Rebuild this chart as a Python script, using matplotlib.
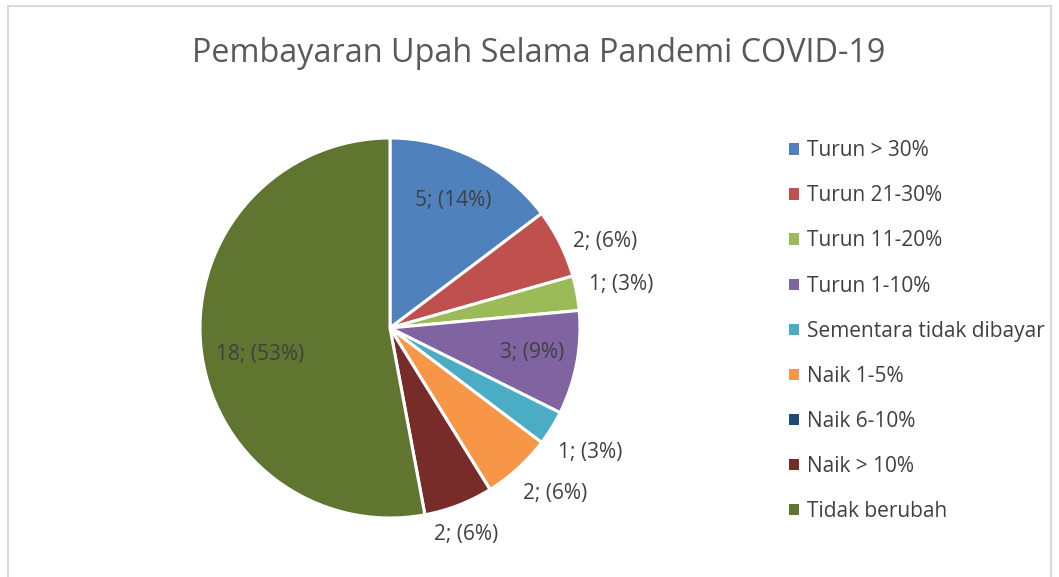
import numpy as np
import matplotlib.pyplot as plt
from matplotlib.patches import Rectangle, Patch

categories = ["Turun > 30%", "Turun 21-30%", "Turun 11-20%", "Turun 1-10%",
              "Sementara tidak dibayar", "Naik 1-5%", "Naik 6-10%",
              "Naik > 10%", "Tidak berubah"]
counts = [5, 2, 1, 3, 1, 2, 0, 2, 18]
percents = [14, 6, 3, 9, 3, 6, 0, 6, 53]
colors = ["#4F81BD", "#C0504D", "#9BBB59", "#8064A2", "#4BACC6",
          "#F79646", "#1F497D", "#772C2A", "#5F7530"]
# label placement: radius factor and clockwise angle nudge (deg)
label_dist = [0.75, 1.22, 1.24, 0.76, 1.24, 1.23, 1.2, 1.16, 0.70]
label_shift = [0, 4.5, 0, -1, 0, -2.5, 0, 1, -6.4]

plt.rcParams["font.family"] = ["Open Sans", "DejaVu Sans"]

W, H = 1059, 577
fig = plt.figure(figsize=(W / 100, H / 100), dpi=100)

# light grey chart border
fig.patches.append(Rectangle((8 / W, -0.01), (1051 - 8) / W, (H - 6) / H + 0.01,
                             transform=fig.transFigure, fill=False,
                             edgecolor="#D9D9D9", linewidth=1.5))

fig.text(539 / W, 1 - 53 / H, "Pembayaran Upah Selama Pandemi COVID-19",
         ha="center", va="center", fontsize=23.3, color="#595959")

cx, cy, r = 390, 328, 190
ax = fig.add_axes([(cx - r) / W, (H - cy - r) / H, 2 * r / W, 2 * r / H])
wedges, _ = ax.pie(counts, colors=colors, startangle=90, counterclock=False,
                   radius=1, wedgeprops=dict(edgecolor="white", linewidth=2.2))
ax.set_xlim(-1, 1)
ax.set_ylim(-1, 1)

for w, c, p, d, s in zip(wedges, counts, percents, label_dist, label_shift):
    if c == 0:
        continue
    ang = np.deg2rad((w.theta1 + w.theta2) / 2 - s)
    ax.text(d * np.cos(ang), d * np.sin(ang), f"{c}; ({p}%)",
            ha="center", va="center", fontsize=15, color="#404040", clip_on=False)

handles = [Patch(facecolor=col, edgecolor="none") for col in colors]
fig.legend(handles, categories, loc="upper left", bbox_to_anchor=(781 / W, 1 - 132 / H),
           frameon=False, fontsize=15, labelcolor="#404040",
           handlelength=0.45, handleheight=0.45, handletextpad=0.4,
           labelspacing=1.155, borderaxespad=0)

fig.savefig("out.png", dpi=100)
